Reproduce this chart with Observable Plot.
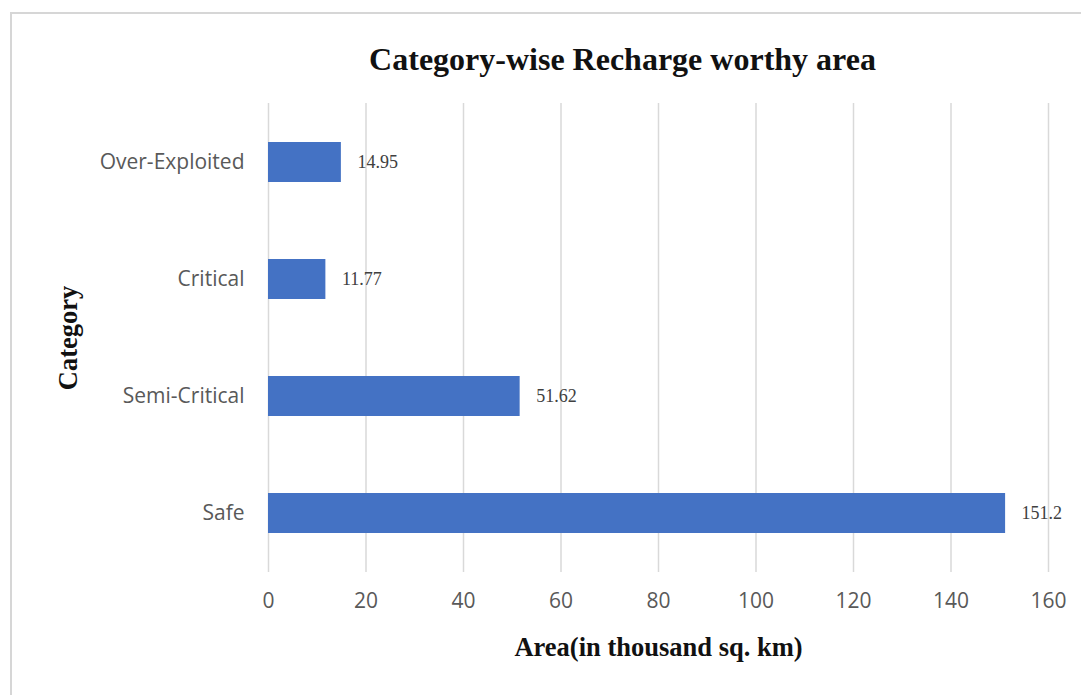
<!DOCTYPE html>
<html>
<head>
<meta charset="utf-8">
<script src="https://cdn.jsdelivr.net/npm/d3@7"></script>
<script src="https://cdn.jsdelivr.net/npm/@observablehq/plot@0.6"></script>
<style>
  html, body { margin: 0; padding: 0; background: #fff; overflow: hidden; }
  #wrap { position: relative; width: 1081px; height: 695px; }
  #frame { position: absolute; left: 10px; top: 12px; width: 1100px; height: 720px;
           border: 2px solid #d6d6d6; box-sizing: border-box; pointer-events: none; }
  #chart { position: absolute; left: 0; top: 0; }
</style>
</head>
<body>
<div id="wrap"><div id="chart"></div><div id="frame"></div></div>
<script>
const categories = ["Over-Exploited", "Critical", "Semi-Critical", "Safe"];
const values = [14.95, 11.77, 51.62, 151.2];
const valueLabels = ["14.95", "11.77", "51.62", "151.2"];
const xTicks = [0, 20, 40, 60, 80, 100, 120, 140, 160];
const title = "Category-wise Recharge worthy area";
const xTitle = "Area(in thousand sq. km)";
const yTitle = "Category";

const data = categories.map((c, i) => ({category: c, value: values[i], label: valueLabels[i]}));
const serif = "'Liberation Serif', 'DejaVu Serif', serif";
const sans = "'Open Sans', 'Liberation Sans', sans-serif";

const chart = Plot.plot({
  width: 1081,
  height: 695,
  marginTop: 103,
  marginBottom: 123,
  marginLeft: 268,
  marginRight: 33,
  style: {background: "transparent", fontFamily: sans},
  x: {domain: [0, 160], ticks: xTicks},
  y: {domain: categories, paddingInner: 0.655, paddingOuter: 0.3275},
  marks: [
    Plot.gridX(xTicks, {stroke: "#d9d9d9", strokeOpacity: 1, strokeWidth: 1.5}),
    Plot.barX(data, {x: "value", y: "category", fill: "#4472C4"}),
    Plot.text(data, {x: "value", y: "category", text: "label", dx: 16, textAnchor: "start",
      fontFamily: serif, fontSize: 18, fill: "#404040"}),
    Plot.axisX(xTicks, {label: null, tickSize: 0, tickPadding: 21, fontSize: 21, fill: "#595959"}),
    Plot.axisY({label: null, tickSize: 0, tickPadding: 24, fontSize: 21, fill: "#595959"}),
    Plot.text([title], {frameAnchor: "top", lineAnchor: "middle", dx: -36, dy: -44, fontFamily: serif,
      fontWeight: "bold", fontSize: 32, fill: "#111"}),
    Plot.text([xTitle], {frameAnchor: "bottom", lineAnchor: "middle", dy: 75, fontFamily: serif,
      fontWeight: "bold", fontSize: 26.5, fill: "#111"}),
    Plot.text([yTitle], {frameAnchor: "left", textAnchor: "middle", lineAnchor: "middle", dx: -200,
      rotate: -90, fontFamily: serif, fontWeight: "bold", fontSize: 26.5, fill: "#111"})
  ]
});
document.getElementById("chart").appendChild(chart);
</script>
</body>
</html>
